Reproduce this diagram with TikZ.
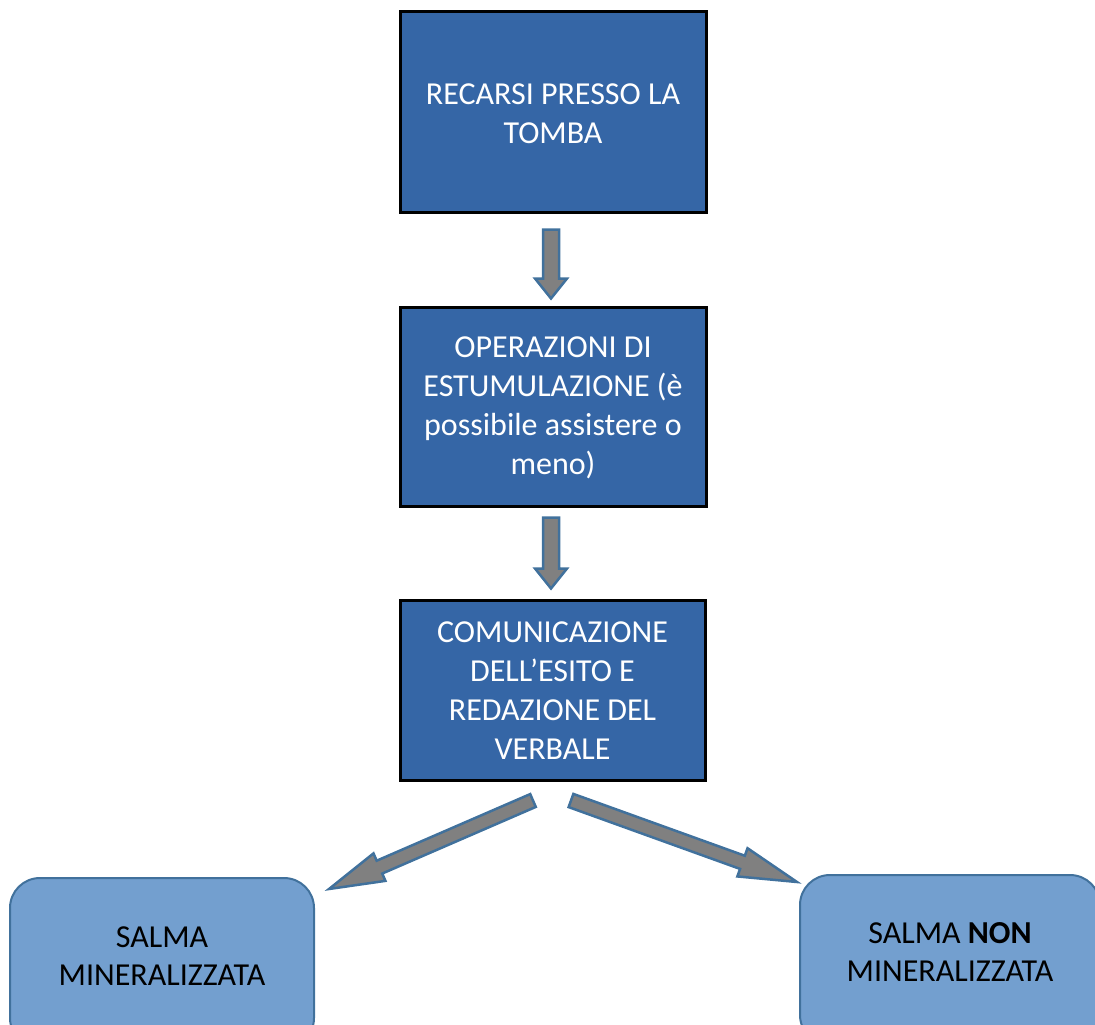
\documentclass[tikz,border=0pt]{standalone}
\usepackage{fontspec}
\setmainfont{Carlito}
\usetikzlibrary{calc}
\definecolor{darkbox}{RGB}{53,102,166}
\definecolor{lightbox}{RGB}{115,159,207}
\definecolor{edgeblue}{RGB}{65,113,156}
\definecolor{arrowgray}{RGB}{128,128,128}
\tikzset{
  stepbox/.style={draw=black, line width=3pt, fill=darkbox, text=white,
    inner sep=0pt, align=center},
  steptext/.style={text=white, align=center, inner sep=0pt, font=\fontsize{32}{39}\selectfont},
  resultbox/.style={draw=edgeblue, line width=2pt, fill=lightbox, text=black,
    rounded corners=30pt, inner sep=0pt, align=center},
  resulttext/.style={text=black, align=center, inner sep=0pt, font=\fontsize{32}{38.5}\selectfont},
  blockarr/.style={draw=edgeblue, line width=2.5pt, fill=arrowgray, line join=miter},
}
\newcommand{\blockarrow}[5]{%
  \coordinate (ba-h) at ($(#2)!#5!(#1)$);
  \draw[blockarr] ($(#1)!#3!90:(#2)$) -- ($(ba-h)!#3!90:(#2)$) -- ($(ba-h)!#4!90:(#2)$)
    -- (#2) -- ($(ba-h)!#4!-90:(#2)$) -- ($(ba-h)!#3!-90:(#2)$) -- ($(#1)!#3!-90:(#2)$) -- cycle;}
\begin{document}
\begin{tikzpicture}[x=1pt,y=-1pt]
\useasboundingbox (0,0) rectangle (1095,1025);
\clip (0,0) rectangle (1095,1025);
% step boxes
\node[stepbox, minimum width=306pt, minimum height=200pt] (b1) at (553,112) {};
\node[steptext] (t1) at (553,114) {RECARSI PRESSO LA\\TOMBA};
\node[stepbox, minimum width=306pt, minimum height=199pt] (b2) at (553,406.5) {};
\node[steptext] (t2) at (553,408) {OPERAZIONI DI\\ESTUMULAZIONE (è\\possibile assistere o\\meno)};
\node[stepbox, minimum width=305pt, minimum height=180pt] (b3) at (552.5,690) {};
\node[steptext] (t3) at (552.5,691) {COMUNICAZIONE\\DELL’ESITO E\\REDAZIONE DEL\\VERBALE};
% result boxes
\node[resultbox, minimum width=304pt, minimum height=170pt] (r1) at (162,963) {};
\node[resulttext] (rt1) at (162,956) {SALMA\\MINERALIZZATA};
\node[resultbox, minimum width=300pt, minimum height=170pt] (r2) at (950,960) {};
\node[resulttext] (rt2) at (950,952) {SALMA \textbf{NON}\\MINERALIZZATA};
% arrow end points
\coordinate (a1s) at ($(b1.south)+(-2,16)$);
\coordinate (a1e) at ($(b2.north)+(-2,-7)$);
\coordinate (a2s) at ($(b2.south)+(-2,10)$);
\coordinate (a2e) at ($(b3.north)+(-1.5,-10)$);
\coordinate (a3s) at ($(b3.south)+(-19.5,19)$);
\coordinate (a3e) at ($(r1.north east)+(14,12)$);
\coordinate (a4s) at ($(b3.south)+(18.5,19)$);
\coordinate (a4e) at ($(r2.north west)+(-2,8)$);
\blockarrow{a1s}{a1e}{8pt}{16pt}{20pt}
\blockarrow{a2s}{a2e}{8pt}{16pt}{20pt}
\blockarrow{a3s}{a3e}{7pt}{15pt}{55pt}
\blockarrow{a4s}{a4e}{7pt}{15pt}{58pt}
\end{tikzpicture}
\end{document}
